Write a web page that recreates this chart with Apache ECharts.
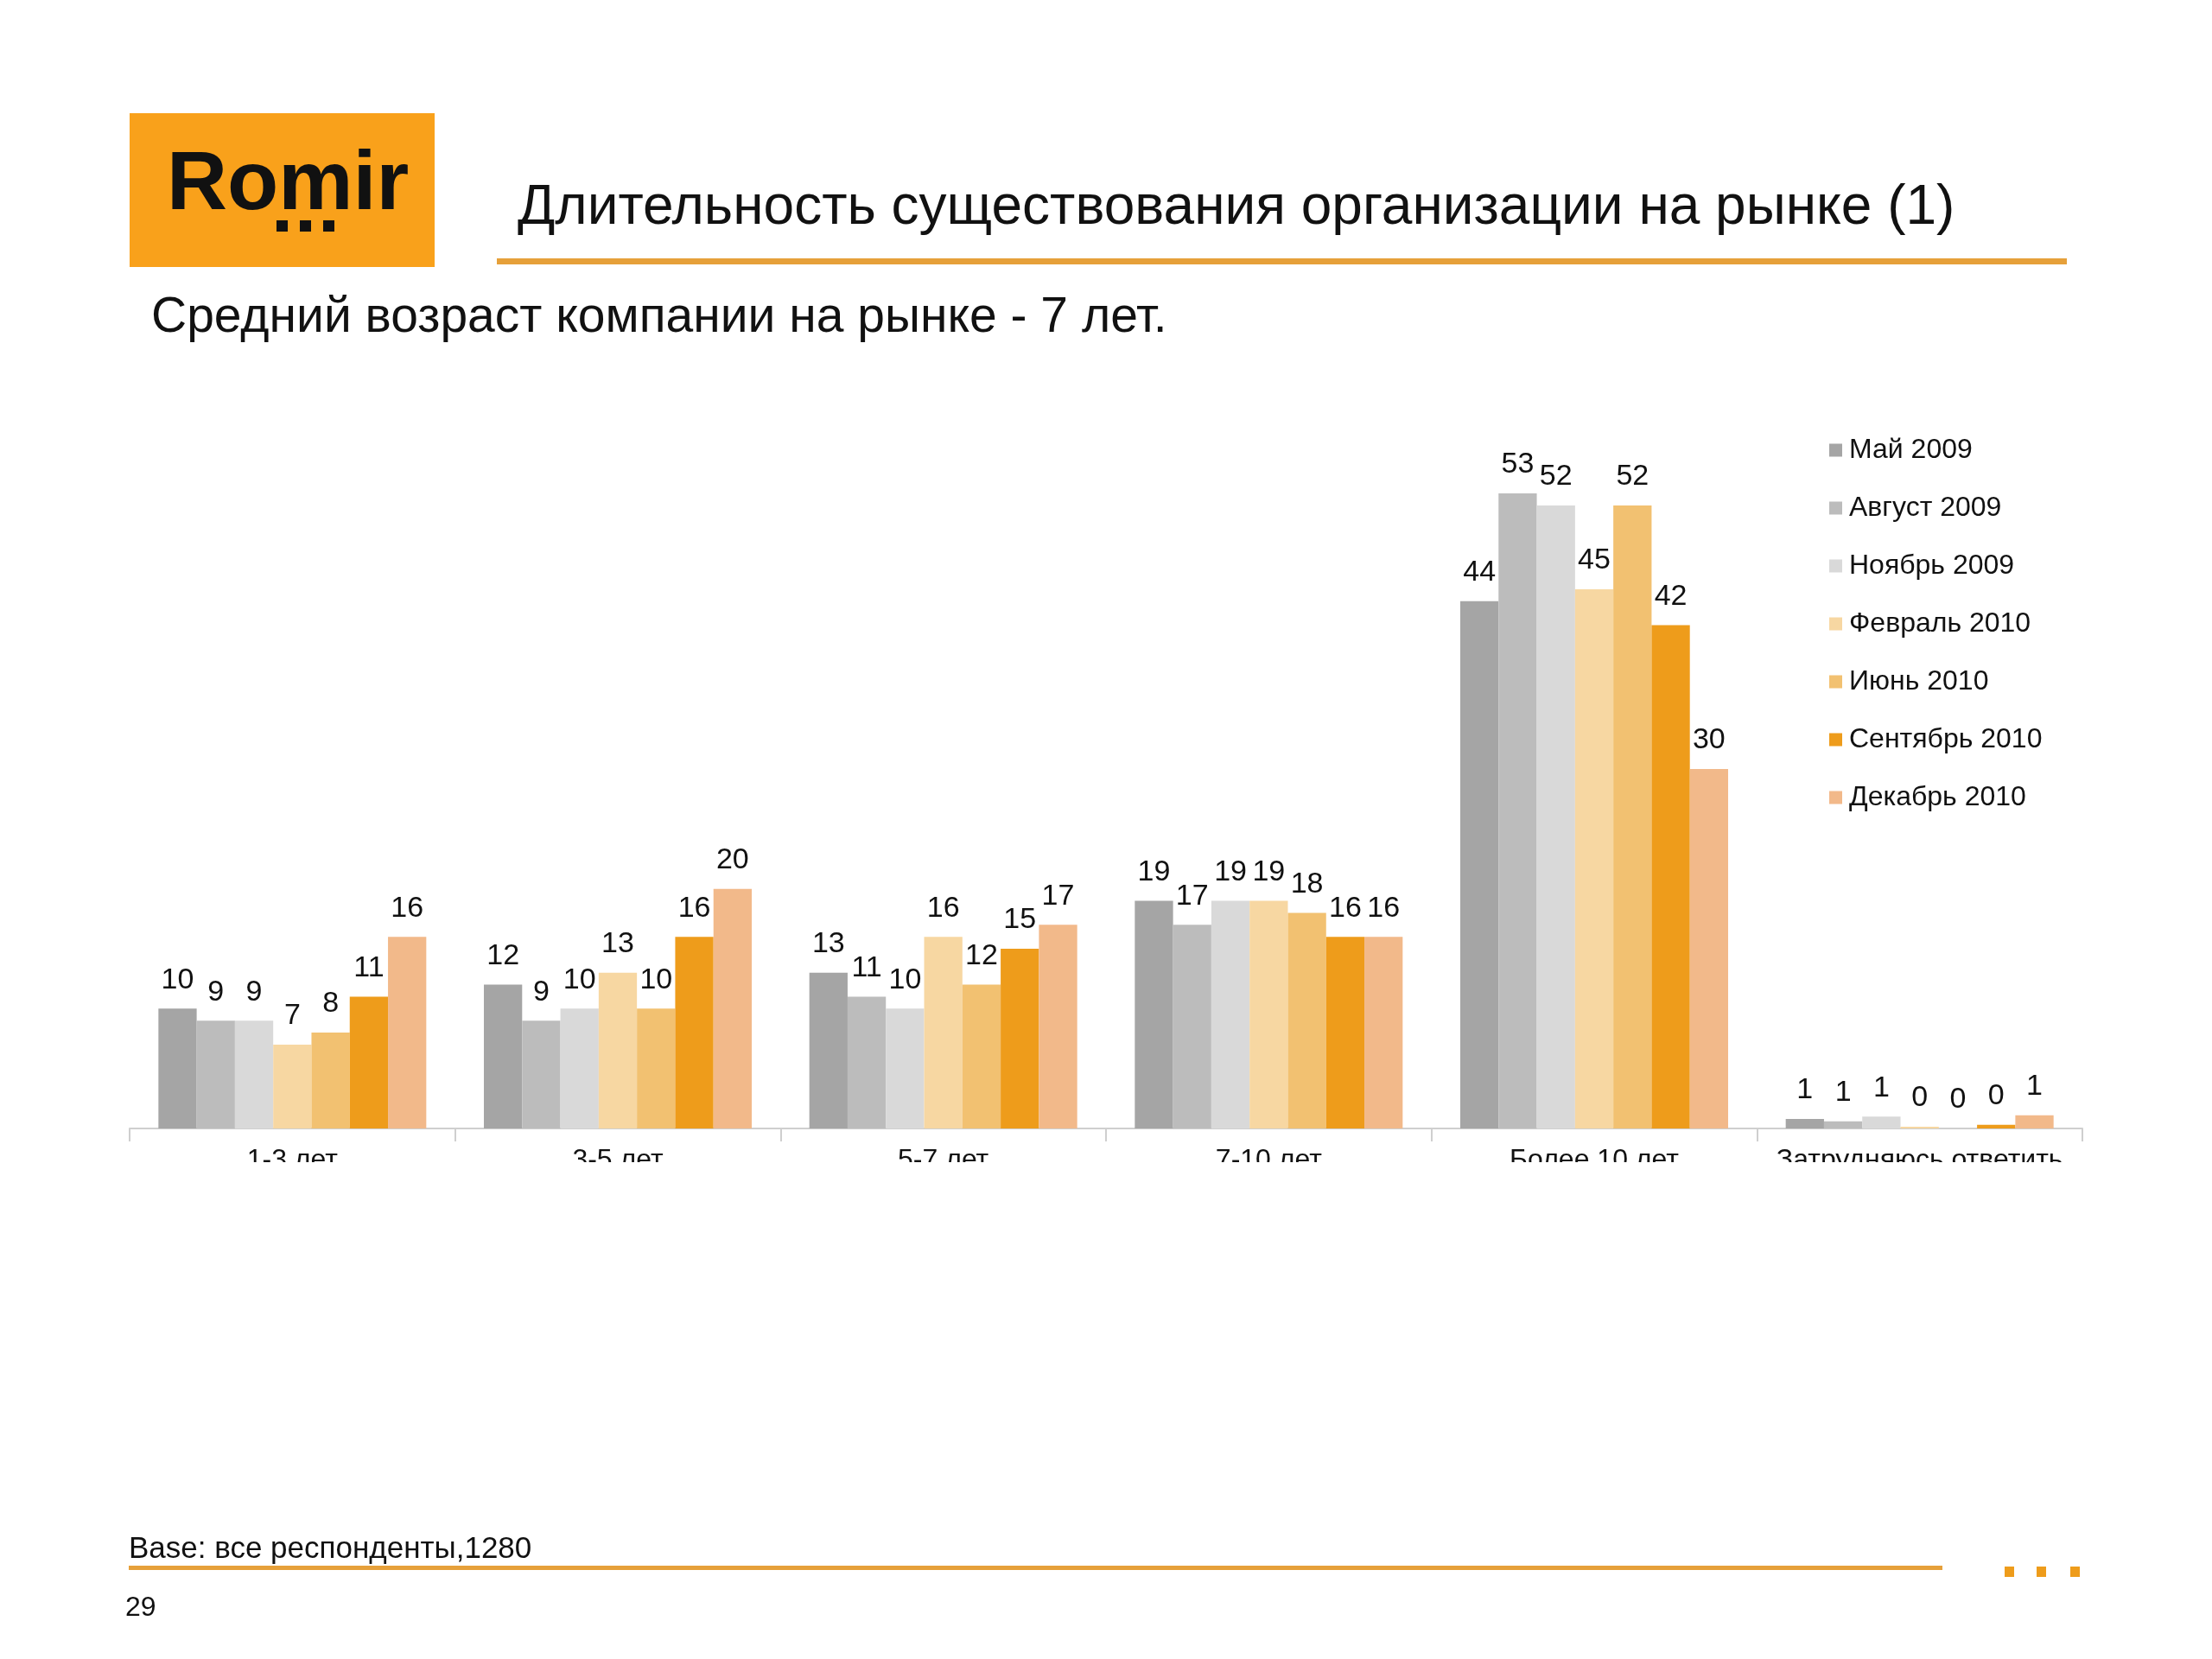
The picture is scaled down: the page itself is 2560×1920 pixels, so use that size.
<!DOCTYPE html>
<html>
<head>
<meta charset="utf-8">
<script src="https://cdn.jsdelivr.net/npm/echarts@6/dist/echarts.min.js"></script>
<style>
html,body{margin:0;padding:0;background:#fff;}
#c{width:2560px;height:1920px;}
</style>
</head>
<body>
<div id="c"></div>
<script>
const categories = ['1-3 лет', '3-5 лет', '5-7 лет', '7-10 лет', 'Более 10 лет', 'Затрудняюсь ответить'];
const seriesNames = ['Май 2009', 'Август 2009', 'Ноябрь 2009', 'Февраль 2010', 'Июнь 2010', 'Сентябрь 2010', 'Декабрь 2010'];
const may2009 = [10, 12, 13, 19, 44, 0.8];
const aug2009 = [9, 9, 11, 17, 53, 0.6];
const nov2009 = [9, 10, 10, 19, 52, 1.0];
const feb2010 = [7, 13, 16, 19, 45, 0.15];
const jun2010 = [8, 10, 12, 18, 52, 0];
const sep2010 = [11, 16, 15, 16, 42, 0.3];
const dec2010 = [16, 20, 17, 16, 30, 1.1];
const seriesValues = [may2009, aug2009, nov2009, feb2010, jun2010, sep2010, dec2010];
const colors = ['#A5A5A5', '#BCBCBC', '#D9D9D9', '#F7D7A2', '#F2C171', '#EE9C1B', '#F2B98A'];
const titleText = 'Длительность существования организации на рынке (1)';
const subtitleText = 'Средний возраст компании на рынке - 7 лет.';
const baseText = 'Base: все респонденты,1280';
const pageNumber = '29';

const FONT = '"Liberation Sans", Arial, Helvetica, sans-serif';
const chart = echarts.init(document.getElementById('c'));

const series = seriesNames.map((name, i) => ({
  name: name,
  type: 'bar',
  data: seriesValues[i],
  itemStyle: { color: colors[i] },
  barGap: '0%',
  barCategoryGap: '17.7%',
  label: {
    show: true,
    position: 'top',
    distance: 16,
    fontSize: 34,
    fontFamily: FONT,
    color: '#111',
    formatter: p => String(Math.round(p.value))
  }
}));

chart.setOption({
  backgroundColor: '#fff',
  animation: false,
  grid: { left: 150, right: 150, top: 474, height: 832 },
  xAxis: {
    type: 'category',
    data: categories,
    axisLine: { lineStyle: { color: '#CFCFCF', width: 2 } },
    axisTick: { show: true, length: 15, lineStyle: { color: '#CFCFCF', width: 2 } },
    axisLabel: { fontSize: 32, fontFamily: FONT, color: '#111', margin: 21, interval: 0 }
  },
  yAxis: { type: 'value', min: 0, max: 60, show: false, splitLine: { show: false } },
  legend: {
    orient: 'vertical',
    left: 2112,
    top: 500,
    icon: 'rect',
    itemWidth: 15,
    itemHeight: 15,
    itemGap: 35,
    textStyle: { fontSize: 32, fontFamily: FONT, color: '#111', lineHeight: 32, padding: [0, 0, 0, 3] },
    data: seriesNames
  },
  series: series,
  graphic: [
    // clip lower half of category labels
    { type: 'rect', z: 100, shape: { x: 0, y: 1345, width: 2560, height: 90 }, style: { fill: '#fff' } },
    // logo
    { type: 'rect', shape: { x: 150, y: 131, width: 353, height: 178 }, style: { fill: '#F9A11B' } },
    { type: 'text', x: 193, y: 215, style: { text: 'Romir', font: 'bold 97px ' + FONT, fill: '#111', textVerticalAlign: 'middle' } },
    { type: 'rect', shape: { x: 320, y: 255, width: 13, height: 13 }, style: { fill: '#111' } },
    { type: 'rect', shape: { x: 347, y: 255, width: 13, height: 13 }, style: { fill: '#111' } },
    { type: 'rect', shape: { x: 374, y: 255, width: 13, height: 13 }, style: { fill: '#111' } },
    // title
    { type: 'text', x: 599, y: 241, style: { text: titleText, font: '64px ' + FONT, fill: '#111', textVerticalAlign: 'middle' } },
    { type: 'rect', shape: { x: 575, y: 299, width: 1817, height: 7 }, style: { fill: '#E6A03A' } },
    // subtitle
    { type: 'text', x: 175, y: 368, style: { text: subtitleText, font: '57px ' + FONT, fill: '#111', textVerticalAlign: 'middle' } },
    // footer
    { type: 'text', x: 149, y: 1793, style: { text: baseText, font: '35px ' + FONT, fill: '#111', textVerticalAlign: 'middle' } },
    { type: 'rect', shape: { x: 149, y: 1812, width: 2099, height: 5 }, style: { fill: '#E6A03A' } },
    { type: 'rect', shape: { x: 2320, y: 1813, width: 11, height: 12 }, style: { fill: '#EE9C1B' } },
    { type: 'rect', shape: { x: 2357, y: 1813, width: 11, height: 12 }, style: { fill: '#EE9C1B' } },
    { type: 'rect', shape: { x: 2396, y: 1813, width: 11, height: 12 }, style: { fill: '#EE9C1B' } },
    { type: 'text', x: 145, y: 1861, style: { text: pageNumber, font: '32px ' + FONT, fill: '#111', textVerticalAlign: 'middle' } }
  ]
});
</script>
</body>
</html>
